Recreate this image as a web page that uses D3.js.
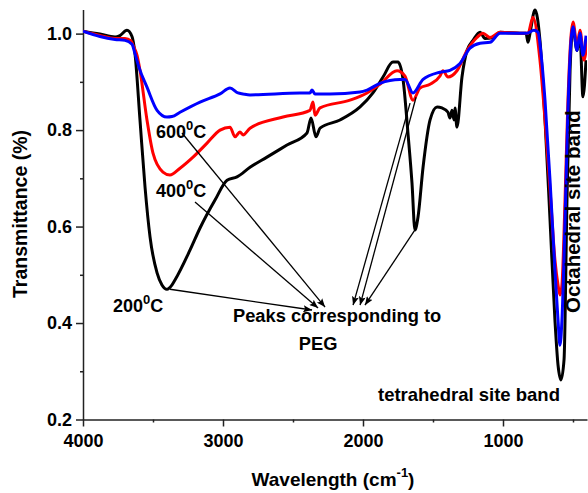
<!DOCTYPE html>
<html>
<head>
<meta charset="utf-8">
<script src="https://cdnjs.cloudflare.com/ajax/libs/d3/7.8.5/d3.min.js"></script>
<style>
  body { margin: 0; background: #fff; }
  text { font-family: "Liberation Sans", Arial, sans-serif; font-weight: bold; fill: #000; }
  .axis path, .axis line { stroke: #222; stroke-width: 1.5px; }
  .axis text { font-size: 18px; }
</style>
</head>
<body>
<div id="chart"></div>
<script>

// FTIR spectra, [wavenumber (cm-1), transmittance]
const black200 = [
  [4000,1.005],[3879,0.999],[3771,0.993],[3736,0.996],[3686,1.007],[3650,0.994],[3629,0.959],
  [3593,0.821],[3557,0.682],[3521,0.578],[3471,0.504],[3436,0.479],[3400,0.470],[3364,0.479],
  [3343,0.489],[3236,0.551],[3164,0.597],[3057,0.655],[2971,0.696],[2900,0.703],[2807,0.723],
  [2686,0.744],[2543,0.769],[2400,0.794],[2371,0.825],[2336,0.786],[2307,0.804],[2164,0.821],
  [2021,0.848],[1929,0.877],[1857,0.910],[1786,0.941],[1750,0.941],[1714,0.905],[1679,0.794],
  [1650,0.690],[1629,0.593],[1607,0.620],[1571,0.723],[1521,0.821],[1471,0.848],[1436,0.846],
  [1393,0.837],[1379,0.825],[1364,0.841],[1350,0.821],[1343,0.846],[1329,0.806],[1293,0.910],
  [1257,0.965],[1214,0.986],[1164,1.003],[1129,0.990],[1071,0.992],[1021,1.003],[879,1.001],
  [836,1.001],[821,0.982],[807,1.001],[771,1.049],[736,0.986],[700,0.821],[664,0.613],
  [629,0.406],[607,0.313],[586,0.282],[564,0.324],[543,0.655],[521,0.924],[500,1.012],
  [471,0.965],[450,0.996],[429,0.869],[407,0.945]
];

const red400 = [
  [4000,1.005],[3879,0.996],[3771,0.990],[3700,0.990],[3657,0.985],[3643,0.976],[3614,0.955],
  [3593,0.924],[3543,0.821],[3500,0.752],[3429,0.713],[3379,0.707],[3307,0.721],[3214,0.744],
  [3114,0.773],[3021,0.800],[2950,0.806],[2914,0.786],[2879,0.796],[2857,0.790],[2807,0.804],
  [2571,0.827],[2379,0.841],[2357,0.858],[2343,0.831],[2307,0.846],[2093,0.862],[1971,0.877],
  [1879,0.895],[1757,0.923],[1700,0.912],[1643,0.862],[1593,0.887],[1521,0.895],[1450,0.912],
  [1429,0.923],[1393,0.910],[1329,0.923],[1257,0.965],[1186,0.992],[1143,1.001],[1093,0.992],
  [1021,1.003],[879,1.001],[821,1.001],[786,1.034],[736,0.945],[700,0.821],[664,0.676],
  [629,0.531],[607,0.479],[593,0.458],[579,0.479],[557,0.655],[536,0.862],[514,0.996],
  [500,1.024],[471,0.976],[450,1.007],[421,0.945],[400,0.986]
];

const blue600 = [
  [4000,1.005],[3879,0.994],[3771,0.988],[3700,0.986],[3650,0.978],[3629,0.959],[3600,0.930],
  [3543,0.889],[3471,0.841],[3400,0.827],[3364,0.828],[3307,0.837],[3164,0.858],[3021,0.875],
  [2950,0.887],[2893,0.877],[2857,0.875],[2807,0.873],[2450,0.877],[2379,0.877],[2364,0.883],
  [2343,0.875],[2236,0.875],[2021,0.879],[1971,0.883],[1879,0.897],[1736,0.905],[1700,0.905],
  [1643,0.877],[1571,0.905],[1450,0.920],[1379,0.924],[1307,0.938],[1236,0.970],[1164,0.980],
  [1093,0.982],[1021,1.001],[879,1.001],[829,1.001],[779,1.007],[750,1.003],[729,0.960],
  [700,0.862],[664,0.696],[629,0.510],[607,0.406],[593,0.354],[579,0.406],[557,0.613],
  [536,0.841],[514,0.986],[500,1.014],[471,0.965],[450,1.001],[429,0.955],[407,0.996]
];

const series = [
  {name: "200", color: "#000000", values: black200},
  {name: "400", color: "#ff0000", values: red400},
  {name: "600", color: "#0000ff", values: blue600}
];

const xMajor = [4000, 3000, 2000, 1000];
const xMinor = [3500, 2500, 1500, 500];
const yMajor = [0.2, 0.4, 0.6, 0.8, 1.0];
const yMinor = [0.3, 0.5, 0.7, 0.9];

// arrows: [from, to] in data space
const arrows = [
  [[3293, 0.794], [2271, 0.433]],
  [[3200, 0.651], [2321, 0.431]],
  [[3379, 0.470], [2364, 0.427]],
  [[1664, 0.856], [2071, 0.437]],
  [[1621, 0.868], [2021, 0.437]],
  [[1629, 0.593], [1986, 0.437]]
];

class FtirVis {

  constructor(_parentElement) {
    this.parentElement = _parentElement;
    this.initVis();
  }

  initVis() {
    let vis = this;

    vis.margin = {top: 9.5, right: 1, bottom: 73.5, left: 83};
    vis.width = 588 - vis.margin.left - vis.margin.right;
    vis.height = 493 - vis.margin.top - vis.margin.bottom;

    vis.svg = d3.select("#" + vis.parentElement).append("svg")
      .attr("width", 588)
      .attr("height", 493);

    vis.g = vis.svg.append("g")
      .attr("transform", `translate(${vis.margin.left}, ${vis.margin.top})`);

    vis.x = d3.scaleLinear().domain([4000, 400]).range([0, vis.width]);
    vis.y = d3.scaleLinear().domain([0.2, 1.05]).range([vis.height, 0]);

    // minor ticks first, then major with labels
    vis.g.append("g").attr("class", "axis")
      .attr("transform", `translate(0, ${vis.height})`)
      .call(d3.axisBottom(vis.x).tickValues(xMinor).tickSize(3).tickFormat(""))
      .select(".domain").remove();
    vis.g.append("g").attr("class", "axis")
      .call(d3.axisLeft(vis.y).tickValues(yMinor).tickSize(3).tickFormat(""))
      .select(".domain").remove();

    vis.xAxis = vis.g.append("g").attr("class", "axis")
      .attr("transform", `translate(0, ${vis.height})`)
      .call(d3.axisBottom(vis.x).tickValues(xMajor).tickSize(7).tickSizeOuter(0).tickPadding(8).tickFormat(d3.format("d")));
    vis.yAxis = vis.g.append("g").attr("class", "axis")
      .call(d3.axisLeft(vis.y).tickValues(yMajor).tickSize(7).tickSizeOuter(0).tickPadding(4).tickFormat(d3.format(".1f")));

    // clip
    vis.g.append("clipPath").attr("id", "clip")
      .append("rect").attr("width", vis.width).attr("height", vis.height + 2).attr("y", -2);

    vis.line = d3.line()
      .x(d => vis.x(d[0]))
      .y(d => vis.y(d[1]))
      .curve(d3.curveMonotoneX);

    vis.g.append("g").attr("clip-path", "url(#clip)")
      .selectAll(".spectrum")
      .data(series)
      .enter().append("path")
      .attr("class", "spectrum")
      .attr("fill", "none")
      .attr("stroke", d => d.color)
      .attr("stroke-width", 3)
      .attr("stroke-linejoin", "round")
      .attr("d", d => vis.line(d.values));

    // arrow marker
    vis.svg.append("defs").append("marker")
      .attr("id", "arrowhead")
      .attr("markerUnits", "userSpaceOnUse")
      .attr("viewBox", "0 0 10 8")
      .attr("refX", 10).attr("refY", 4)
      .attr("markerWidth", 9).attr("markerHeight", 7)
      .attr("orient", "auto")
      .append("path")
      .attr("d", "M0,0 L10,4 L0,8 L2,4 Z")
      .attr("fill", "#000");

    vis.g.selectAll(".arrow")
      .data(arrows)
      .enter().append("line")
      .attr("class", "arrow")
      .attr("x1", d => vis.x(d[0][0]))
      .attr("y1", d => vis.y(d[0][1]))
      .attr("x2", d => vis.x(d[1][0]))
      .attr("y2", d => vis.y(d[1][1]))
      .attr("stroke", "#000")
      .attr("stroke-width", 1.3)
      .attr("marker-end", "url(#arrowhead)");

    // temperature labels
    const tempLabels = [
      {t: "600", w: 3479, v: 0.783},
      {t: "400", w: 3479, v: 0.661},
      {t: "200", w: 3786, v: 0.423}
    ];
    tempLabels.forEach(l => {
      let txt = vis.g.append("text")
        .attr("x", vis.x(l.w))
        .attr("y", vis.y(l.v))
        .style("font-size", "18px");
      txt.append("tspan").text(l.t);
      txt.append("tspan").attr("dy", -8).style("font-size", "13px").text("0");
      txt.append("tspan").attr("dy", 8).text("C");
    });

    vis.g.append("text")
      .attr("x", vis.x(2929)).attr("y", vis.y(0.402))
      .style("font-size", "18.3px")
      .text("Peaks corresponding to");
    vis.g.append("text")
      .attr("x", vis.x(2321)).attr("y", vis.y(0.344))
      .attr("text-anchor", "middle")
      .style("font-size", "18.3px")
      .text("PEG");

    vis.g.append("text")
      .attr("x", vis.x(1893)).attr("y", vis.y(0.238))
      .style("font-size", "18.5px")
      .text("tetrahedral site band");

    vis.g.append("text")
      .attr("transform", `translate(${vis.x(450)}, ${vis.y(0.421)}) rotate(-90)`)
      .style("font-size", "20.5px")
      .text("Octahedral site band");

    // axis titles
    vis.svg.append("text")
      .attr("transform", `translate(27, 214) rotate(-90)`)
      .attr("text-anchor", "middle")
      .style("font-size", "19.5px")
      .text("Transmittance (%)");

    let xt = vis.svg.append("text")
      .attr("x", 333).attr("y", 486)
      .attr("text-anchor", "middle")
      .style("font-size", "19px");
    xt.append("tspan").text("Wavelength (cm");
    xt.append("tspan").attr("dy", -9).style("font-size", "13px").text("-1");
    xt.append("tspan").attr("dy", 9).text(")");
  }
}

new FtirVis("chart");
</script>
</body>
</html>
